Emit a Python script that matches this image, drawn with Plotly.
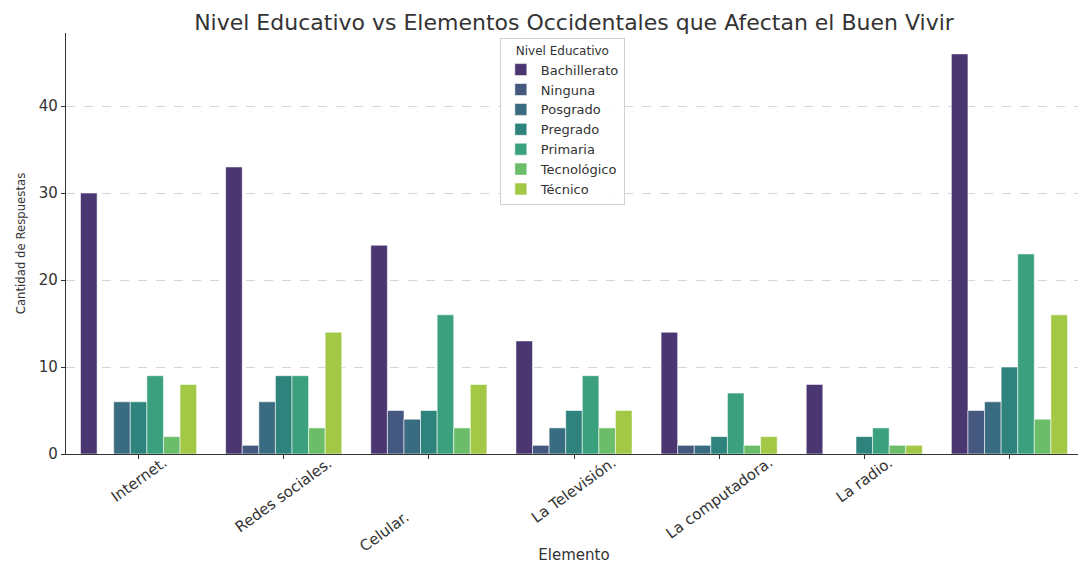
import plotly.graph_objects as go

# ---------------- data ----------------
categories = ["Internet.", "Redes sociales.", "Celular.", "La Televisión.",
              "La computadora.", "La radio.", ""]
levels = ["Bachillerato", "Ninguna", "Posgrado", "Pregrado", "Primaria",
          "Tecnológico", "Técnico"]

bachillerato = [30, 33, 24, 13, 14, 8, 46]
ninguna      = [None, 1, 5, 1, 1, None, 5]
posgrado     = [6, 6, 4, 3, 1, None, 6]
pregrado     = [6, 9, 5, 5, 2, 2, 10]
primaria     = [9, 9, 16, 9, 7, 3, 23]
tecnologico  = [2, 3, 3, 3, 1, 1, 4]
tecnico      = [8, 14, 8, 5, 2, 1, 16]

series = [bachillerato, ninguna, posgrado, pregrado, primaria, tecnologico, tecnico]
y_ticks = [0, 10, 20, 30, 40]

# ---------------- style ----------------
colors = ["#4a3670", "#455880", "#396c80", "#2e837d", "#3ba07d", "#6cbd6a", "#a3c846"]
label_shift = {"Celular.": (-45, -54)}
x_pos = list(range(len(categories)))
TXT = "#333333"

fig = go.Figure()
for name, vals, col in zip(levels, series, colors):
    fig.add_trace(go.Bar(
        x=x_pos, y=vals, name=name,
        marker=dict(color=col, line=dict(color="rgba(255,255,255,0.55)", width=1)),
    ))

for i, lab in enumerate(categories):
    if not lab:
        continue
    dx, dy = label_shift.get(lab, (0, 0))
    fig.add_annotation(
        x=i, y=0, xref="x", yref="y", text=lab, showarrow=False,
        textangle=-36, xanchor="center", yanchor="top",
        xshift=dx, yshift=3 + dy,
        font=dict(family="DejaVu Sans", size=15, color=TXT),
    )

# the page body has an 8px margin, so the figure is sized to end at the window edge
fig.update_layout(
    width=1078, height=556,
    margin=dict(l=58, r=4, t=25, b=110),
    paper_bgcolor="white", plot_bgcolor="white",
    barmode="group", bargap=0.2, bargroupgap=0,
    title=dict(text="Nivel Educativo vs Elementos Occidentales que Afectan el Buen Vivir",
               x=0.5, xref="paper", xanchor="center",
               y=0.975, yref="container", yanchor="middle",
               font=dict(family="DejaVu Sans", size=22, color=TXT)),
    font=dict(family="DejaVu Sans", color=TXT),
    legend=dict(
        title=dict(text="Nivel Educativo", side="top center",
                   font=dict(family="DejaVu Sans", size=12, color=TXT)),
        x=0.427, xanchor="left", y=0.988, yanchor="top",
        bgcolor="rgba(255,255,255,0.9)", bordercolor="#d0d0d0", borderwidth=1,
        font=dict(family="DejaVu Sans", size=13, color=TXT),
        tracegroupgap=0, itemwidth=30,
    ),
    showlegend=True,
)

fig.update_xaxes(
    range=[-0.5, len(categories) - 0.5],
    tickmode="array", tickvals=x_pos, showticklabels=False,
    ticks="outside", ticklen=4, tickcolor=TXT,
    showline=True, linecolor=TXT, linewidth=1.3,
    showgrid=False, zeroline=False,
    title=dict(text="Elemento", standoff=93,
               font=dict(family="DejaVu Sans", size=15, color=TXT)),
    automargin=False,
)
fig.update_yaxes(
    range=[0, 48.4],
    tickmode="array", tickvals=y_ticks,
    ticks="outside", ticklen=4, tickcolor=TXT,
    tickfont=dict(family="DejaVu Sans", size=15, color=TXT),
    showline=True, linecolor=TXT, linewidth=1.3,
    showgrid=True, gridcolor="#d6d6d6", griddash="dash", gridwidth=1,
    zeroline=False,
    title=dict(text="Cantidad de Respuestas", standoff=10,
               font=dict(family="Liberation Sans Narrow, DejaVu Sans Condensed, sans-serif",
                         size=13, color=TXT)),
    automargin=False,
)

fig.write_html("out.html")
